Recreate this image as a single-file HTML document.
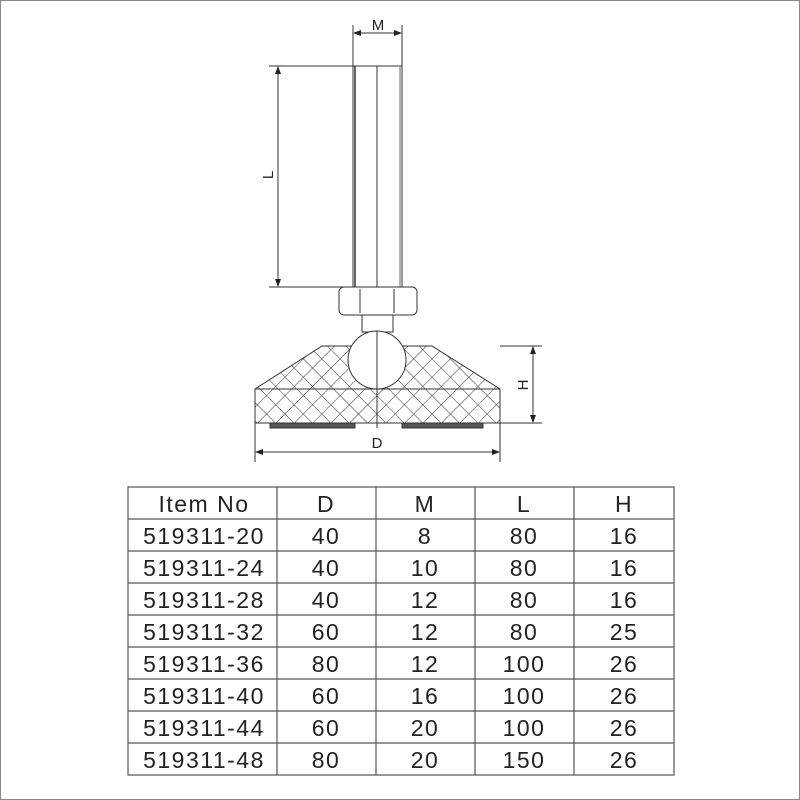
<!DOCTYPE html>
<html><head><style>
body{margin:0;background:#fff;}
.wrap{position:relative;width:800px;height:800px;overflow:hidden;}
svg{position:absolute;left:0;top:0;}
text{font-family:"Liberation Sans",Arial,sans-serif;}
</style></head><body><div class="wrap">
<svg width="800" height="800" viewBox="0 0 800 800">
<defs>
<pattern id="hatch" width="13" height="13" patternUnits="userSpaceOnUse" patternTransform="rotate(45)">
<line x1="0" y1="0" x2="0" y2="13" stroke="#333" stroke-width="1"/>
<line x1="0" y1="0" x2="13" y2="0" stroke="#333" stroke-width="1"/>
</pattern>
<marker id="ar" markerWidth="8" markerHeight="6" refX="7" refY="3" orient="auto-start-reverse" markerUnits="userSpaceOnUse"><path d="M0,0 L8,3 L0,6z" fill="#222"/></marker>
</defs>
<rect x="0.5" y="0.5" width="799" height="799" fill="none" stroke="#888" stroke-width="1"/>
<g stroke="#333" stroke-width="1" fill="none">
<rect x="353" y="66" width="49" height="221" fill="#fff"/>
<line x1="377" y1="66" x2="377" y2="428"/>
<line x1="355" y1="66" x2="355" y2="287" stroke-width="1.5"/>
<line x1="400" y1="66" x2="400" y2="287" stroke="#999" stroke-width="1.5"/>
<line x1="353" y1="25" x2="353" y2="66"/><line x1="402" y1="25" x2="402" y2="66"/>
<line x1="354" y1="33" x2="401" y2="33" marker-start="url(#ar)" marker-end="url(#ar)"/>
<line x1="269" y1="66" x2="353" y2="66"/><line x1="269" y1="287" x2="353" y2="287"/>
<line x1="278" y1="67" x2="278" y2="286" marker-start="url(#ar)" marker-end="url(#ar)"/>
<rect x="339" y="287" width="78" height="28" rx="5" fill="#fff"/>
<line x1="360" y1="289" x2="360" y2="313"/><line x1="394" y1="289" x2="394" y2="313"/>
<rect x="362" y="315" width="31" height="17" fill="#fff"/>
<path d="M322,346 L432,346 L500,389 L500,423 L255,423 L255,389 Z" fill="url(#hatch)" stroke="#333"/>
<line x1="255" y1="389" x2="500" y2="389"/>
<circle cx="377" cy="360" r="29" fill="#fff"/>
<line x1="377" y1="331" x2="377" y2="428"/>
<rect x="270" y="423" width="85" height="5" fill="#555"/>
<rect x="402" y="423" width="81" height="5" fill="#555"/>
<line x1="500" y1="346" x2="542" y2="346"/><line x1="500" y1="423" x2="542" y2="423"/>
<line x1="533" y1="347" x2="533" y2="422" marker-start="url(#ar)" marker-end="url(#ar)"/>
<line x1="255" y1="423" x2="255" y2="462"/><line x1="500" y1="423" x2="500" y2="462"/>
<line x1="256" y1="452" x2="499" y2="452" marker-start="url(#ar)" marker-end="url(#ar)"/>
</g>
<g font-size="15" fill="#222" text-anchor="middle">
<text x="378" y="30">M</text>
<text x="377" y="448">D</text>
<text transform="translate(273,175) rotate(-90)">L</text>
<text transform="translate(528,385) rotate(-90)">H</text>
</g>
<g stroke="#555" stroke-width="1.2" fill="none">
<rect x="128" y="487" width="546" height="288"/>
<line x1="277" y1="487" x2="277" y2="775"/><line x1="376" y1="487" x2="376" y2="775"/>
<line x1="475" y1="487" x2="475" y2="775"/><line x1="574" y1="487" x2="574" y2="775"/>
<line x1="128" y1="519" x2="674" y2="519"/><line x1="128" y1="551" x2="674" y2="551"/>
<line x1="128" y1="583" x2="674" y2="583"/><line x1="128" y1="615" x2="674" y2="615"/>
<line x1="128" y1="647" x2="674" y2="647"/><line x1="128" y1="679" x2="674" y2="679"/>
<line x1="128" y1="711" x2="674" y2="711"/><line x1="128" y1="743" x2="674" y2="743"/>
</g>
<g font-size="23" fill="#222" text-anchor="middle" letter-spacing="1.5">
<text x="204" y="512">Item No</text><text x="326" y="512">D</text><text x="425" y="512">M</text><text x="524" y="512">L</text><text x="624" y="512">H</text>
<text x="204" y="544">519311-20</text><text x="326" y="544">40</text><text x="425" y="544">8</text><text x="524" y="544">80</text><text x="624" y="544">16</text>
<text x="204" y="576">519311-24</text><text x="326" y="576">40</text><text x="425" y="576">10</text><text x="524" y="576">80</text><text x="624" y="576">16</text>
<text x="204" y="608">519311-28</text><text x="326" y="608">40</text><text x="425" y="608">12</text><text x="524" y="608">80</text><text x="624" y="608">16</text>
<text x="204" y="640">519311-32</text><text x="326" y="640">60</text><text x="425" y="640">12</text><text x="524" y="640">80</text><text x="624" y="640">25</text>
<text x="204" y="672">519311-36</text><text x="326" y="672">80</text><text x="425" y="672">12</text><text x="524" y="672">100</text><text x="624" y="672">26</text>
<text x="204" y="704">519311-40</text><text x="326" y="704">60</text><text x="425" y="704">16</text><text x="524" y="704">100</text><text x="624" y="704">26</text>
<text x="204" y="736">519311-44</text><text x="326" y="736">60</text><text x="425" y="736">20</text><text x="524" y="736">100</text><text x="624" y="736">26</text>
<text x="204" y="768">519311-48</text><text x="326" y="768">80</text><text x="425" y="768">20</text><text x="524" y="768">150</text><text x="624" y="768">26</text>
</g>
</svg></div></body></html>
